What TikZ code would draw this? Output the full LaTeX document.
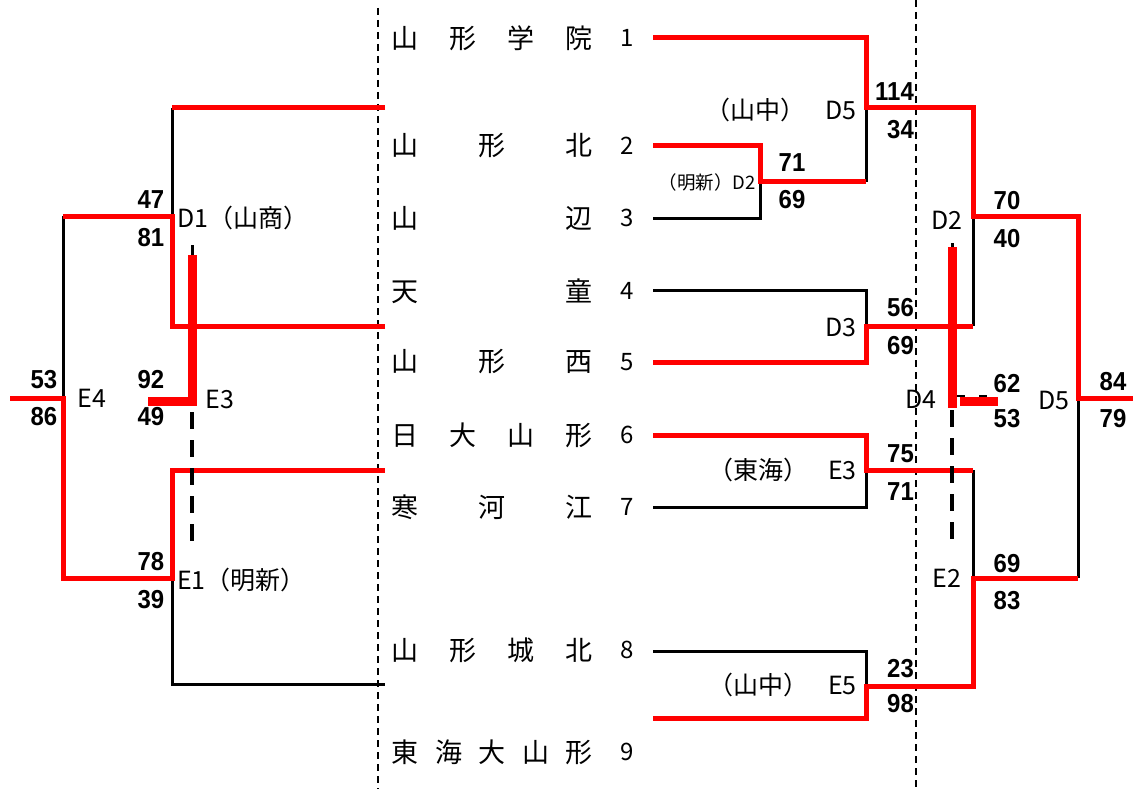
\documentclass[tikz,border=0pt]{standalone}
\usepackage{fontspec}
\setmainfont{Noto Sans CJK JP}
\newfontfamily\scorefont{Liberation Sans}[FakeStretch=0.92]
\begin{document}
\begin{tikzpicture}[x=1pt,y=-1pt,
  bl/.style={draw=black,line width=3pt,line join=miter},
  rl/.style={draw=red,line width=5pt,line join=miter},
  trl/.style={draw=red,line width=9pt,line join=miter},
  tdash/.style={draw=black,line width=4pt,dash pattern=on 17pt off 11pt},
  guide/.style={draw=black,line width=1.4pt,dash pattern=on 7pt off 5pt},
  team/.style={font=\fontsize{27}{27}\selectfont,inner sep=0pt,anchor=west},
  num/.style={font=\fontsize{24}{24}\selectfont,inner sep=0pt},
  lab/.style={font=\fontsize{25}{25}\selectfont,inner sep=0pt},
  slab/.style={font=\fontsize{18.5}{18.5}\selectfont,inner sep=0pt},
  sc/.style={font=\scorefont\bfseries\fontsize{26}{26}\selectfont,inner sep=0pt}]
\useasboundingbox (0,0) rectangle (1133,789);
% guides
\draw[guide] (378,8) -- (378,789);
\draw[guide] (916,0) -- (916,789);
% teams
\newcommand{\tbox}[1]{\hbox to 201pt{#1}}
\node[team] (n1) at (391.5,38) {\tbox{山\hfill 形\hfill 学\hfill 院}};
\node[team] (n2) at (391.5,146) {\tbox{山\hfill 形\hfill 北}};
\node[team] (n3) at (391.5,218) {\tbox{山\hfill 辺}};
\node[team] (n4) at (391.5,291) {\tbox{天\hfill 童}};
\node[team] (n5) at (391.5,362) {\tbox{山\hfill 形\hfill 西}};
\node[team] (n6) at (391.5,435) {\tbox{日\hfill 大\hfill 山\hfill 形}};
\node[team] (n7) at (391.5,507) {\tbox{寒\hfill 河\hfill 江}};
\node[team] (n8) at (391.5,650) {\tbox{山\hfill 形\hfill 城\hfill 北}};
\node[team] (n9) at (391.5,752) {\tbox{東\hfill 海\hfill 大\hfill 山\hfill 形}};
\foreach \i/\y in {1/38,2/146,3/218,4/291,5/362,6/435,7/507,8/650,9/752}
  \node[num] (k\i) at (627,\y) {\i};
% coordinates
\coordinate (r1) at (653,38);  \coordinate (r2) at (653,146);
\coordinate (r3) at (653,218); \coordinate (r4) at (653,290);
\coordinate (r5) at (653,362); \coordinate (r6) at (653,435);
\coordinate (r7) at (653,507); \coordinate (r8) at (653,651);
\coordinate (r9) at (653,718);
\coordinate (la) at (385,108); \coordinate (lb) at (385,326);
\coordinate (lc) at (385,470); \coordinate (ld) at (385,684);
\coordinate (jD2) at (760,182); \coordinate (jD5) at (866,108);
\coordinate (jD3) at (866,326); \coordinate (jE3) at (866,470);
\coordinate (jE5) at (866,686);
\coordinate (jRD2) at (973,216); \coordinate (jRE2) at (973,578);
\coordinate (jRD5) at (1078,398); \coordinate (rend) at (1133,398);
\coordinate (jLD1) at (172,216); \coordinate (jLE1) at (172,578);
\coordinate (jLE4) at (63,398); \coordinate (lend) at (10,398);
% black lines
\draw[bl] (r3) -| (jD2);
\draw[bl] (jD5) -- (866,182);
\draw[bl] (r4) -| (jD3);
\draw[bl] (r7) -| (jE3);
\draw[bl] (r8) -| (jE5);
\draw[bl] (jRD2) -- (973,326);
\draw[bl] (973,470) -- (jRE2);
\draw[bl] (jRD5) -- (1078,578);
\draw[bl] (172,108) -- (jLD1);
\draw[bl] (63,216) -- (jLE4);
\draw[bl] (jLE1) |- (ld);
% red lines
\draw[rl] (r1) -| (jD5) -- (973,108) -- (jRD2) -- (1078,216) -- (jRD5) -- (rend);
\draw[rl] (r2) -| (jD2) -- (866,182);
\draw[rl] (r5) -| (jD3) -- (973,326);
\draw[rl] (r6) -| (jE3) -- (973,470);
\draw[rl] (r9) -| (jE5) -- (973,686) -- (jRE2) -- (1078,578);
\draw[rl] (la) -- (172,108);
\draw[rl] (lb) -| (jLD1) -- (63,216);
\draw[rl] (lc) -| (jLE1) -- (63,578) -- (jLE4) -- (lend);
% dashed / thick marks left (E3)
\draw[bl] (192,245) -- (192,256);
\draw[tdash] (192,412) -- (192,543);
\draw[trl] (192,255) -- (192,401) -- (148,401);
% dashed / thick marks right (D4)
\draw[bl] (952,243) -- (952,250);
\draw[tdash] (952,410) -- (952,541);
\draw[draw=black,line width=2pt,dash pattern=on 8pt off 14pt] (957,396) -- (998,396);
\draw[trl] (952,247) -- (952,408);
\draw[trl] (960,401) -- (998,401);
% labels
\node[lab,anchor=east] (lD5) at (857,110) {（山中）\hspace{20pt}D5};
\node[slab,anchor=east] (lD2) at (756,182) {（明新）D2};
\node[lab,anchor=east] (lD3) at (857,327) {D3};
\node[lab,anchor=east] (lE3) at (857,470) {（東海）\hspace{20pt}E3};
\node[lab,anchor=east] (lE5) at (857,685) {（山中）\hspace{20pt}E5};
\node[lab] (lD4) at (921,399) {D4};
\node[lab] (lRD2) at (947,220) {D2};
\node[lab] (lRE2) at (947,578) {E2};
\node[lab] (lRD5) at (1054,400) {D5};
\node[lab,anchor=west] (lD1) at (177,218) {D1（山商）};
\node[lab,anchor=west] (lE1) at (177,580) {E1（明新）};
\node[lab] (lE4) at (92,398) {E4};
\node[lab] (lLE3) at (220,399) {E3};
% scores
\node[sc,anchor=east] (s114) at (914,92) {114};
\node[sc,anchor=east] (s34) at (914,130) {34};
\node[sc] (s71a) at (792,163) {71};
\node[sc] (s69a) at (792,200) {69};
\node[sc,anchor=east] (s56) at (914,308) {56};
\node[sc,anchor=east] (s69b) at (914,346) {69};
\node[sc,anchor=east] (s75) at (914,454) {75};
\node[sc,anchor=east] (s71b) at (914,492) {71};
\node[sc,anchor=east] (s23) at (914,669) {23};
\node[sc,anchor=east] (s98) at (914,704) {98};
\node[sc] (s70) at (1007,201) {70};
\node[sc] (s40) at (1007,239) {40};
\node[sc] (s62) at (1007,384) {62};
\node[sc] (s53a) at (1007,419) {53};
\node[sc] (s69c) at (1007,564) {69};
\node[sc] (s83) at (1007,601) {83};
\node[sc] (s84) at (1113,382) {84};
\node[sc] (s79) at (1113,419) {79};
\node[sc] (s47) at (151,200) {47};
\node[sc] (s81) at (151,238) {81};
\node[sc] (s92) at (151,380) {92};
\node[sc] (s49) at (151,417) {49};
\node[sc] (s78) at (151,562) {78};
\node[sc] (s39) at (151,600) {39};
\node[sc] (s53b) at (44,380) {53};
\node[sc] (s86) at (44,417) {86};
\end{tikzpicture}
\end{document}
